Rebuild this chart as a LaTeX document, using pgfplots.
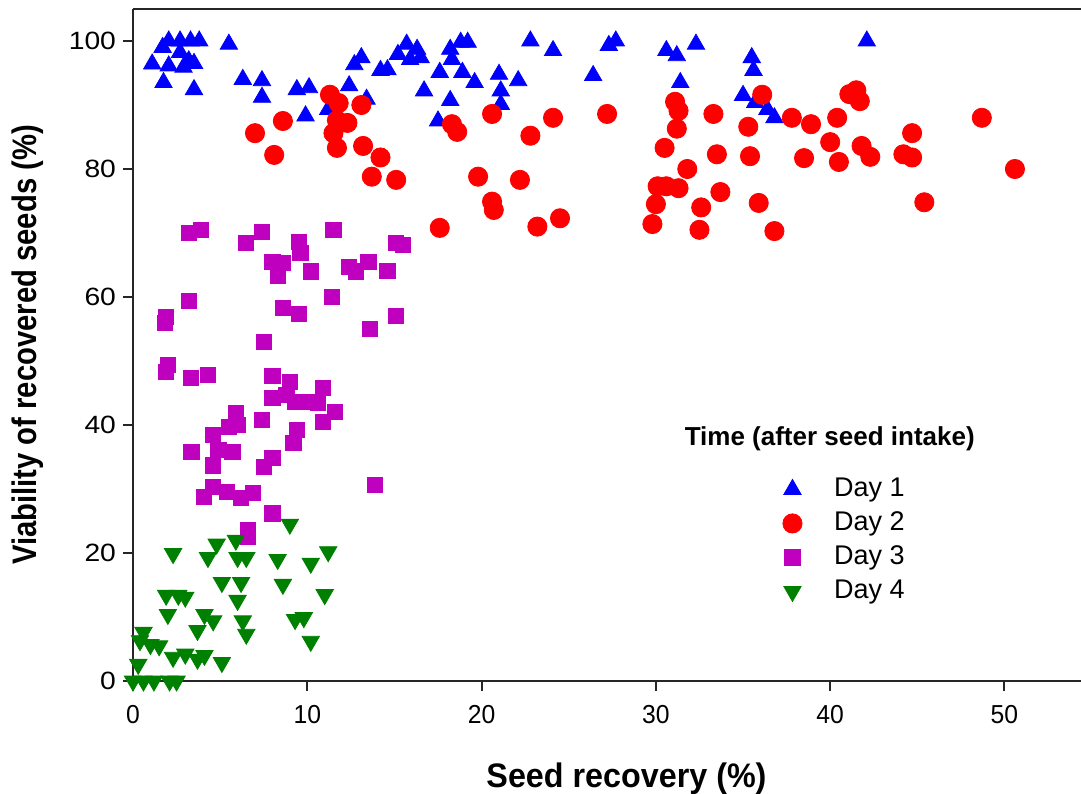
\documentclass[border=0pt]{standalone}
\usepackage{pgfplots}
\pgfplotsset{compat=1.18}
\usepackage{fontspec}
\setmainfont{Liberation Sans}
\newfontfamily\ytickfont[FakeStretch=1.13]{Liberation Sans}
\newfontfamily\xtickfont[FakeStretch=0.95]{Liberation Sans}
\newfontfamily\labfont[FakeStretch=0.86]{Liberation Sans}
\newfontfamily\xlabfont[FakeStretch=0.95]{Liberation Sans}
\definecolor{dayone}{RGB}{0,0,255}
\definecolor{daytwo}{RGB}{255,0,0}
\definecolor{daythree}{RGB}{191,0,191}
\definecolor{dayfour}{RGB}{0,128,0}
\begin{document}
\begin{tikzpicture}
\useasboundingbox (-66.5pt,-56pt) rectangle (474pt,340.5pt);
\begin{axis}[
  scale only axis, width=474pt, height=336pt,
  xmin=0, xmax=54.39, ymin=0, ymax=105,
  separate axis lines,
  axis x line*=box, axis y line*=left,
  axis line style={line width=1.1pt, black!85},
  xtick={0,10,...,50}, ytick={0,20,...,100},
  xtick pos=left, ytick pos=left,
  tick align=outside, major tick length=5pt,
  tick style={line width=1pt, black!85},
  clip=false,
  /pgf/number format/assume math mode=true,
  xticklabel style={font=\xtickfont\fontsize{13pt}{15pt}\selectfont, yshift=-3.5pt},
  yticklabel style={font=\ytickfont\fontsize{12.5pt}{15pt}\selectfont},
  xlabel={Seed recovery (\%)},
  ylabel={Viability of recovered seeds (\%)},
  xlabel style={font=\xlabfont\bfseries\fontsize{17pt}{20pt}\selectfont, at={(axis description cs:0.5206,-0.146)}, anchor=center},
  ylabel style={font=\labfont\bfseries\fontsize{17pt}{20pt}\selectfont, at={(axis description cs:-0.1108,0.5)}, anchor=center},
  legend style={draw=none, fill=none, inner sep=0pt, at={(axis description cs:0.6851,0.305)}, anchor=north west,
    font=\fontsize{13.5pt}{16pt}\selectfont, row sep=4pt,
    nodes={inner sep=0pt, text height=10pt, text depth=3pt},
    /tikz/every odd column/.append style={column sep=16pt}},
  legend cell align=left,
]
\addplot[only marks, mark=triangle*, mark size=5pt, color=dayone] coordinates {
(1.1,96.4) (1.7,99.0) (2.05,100) (2.7,100) (3.3,100) (3.8,100) (2.05,96.1) (2.7,98.2) (3.2,96.9) (2.9,95.9) (3.5,96.5) (1.75,93.5) (3.5,92.4) (5.5,99.5) (6.3,94.0) (7.4,93.8) (7.4,91.2) (9.4,92.4) (10.1,92.7) (9.9,88.3) (11.2,89.3) (12.4,93.0) (12.7,96.3) (13.1,97.4) (13.4,90.9) (14.2,95.4) (14.6,95.5) (15.2,97.9) (15.7,99.5) (16.3,98.7) (15.9,97.1) (16.5,97.4) (16.7,92.2) (17.6,95.1) (18.2,98.7) (18.3,97.1) (18.8,99.8) (19.2,99.8) (18.2,90.7) (17.5,87.5) (18.9,95.1) (19.6,93.5) (21.0,94.8) (21.1,92.2) (21.1,90.1) (22.1,93.8) (22.8,100) (24.1,98.5) (26.4,94.6) (27.3,99.3) (27.7,100) (30.6,98.5) (31.2,97.7) (32.3,99.5) (31.4,93.5) (35.5,97.4) (35.6,95.4) (35.0,91.5) (35.7,90.4) (36.4,89.3) (36.8,88.0) (42.1,100)
};
\addlegendentry{Day 1}
\addplot[only marks, mark=*, mark size=4.8pt, color=daytwo] coordinates {
(11.3,91.6) (11.8,90.3) (13.1,90) (8.6,87.5) (7.0,85.6) (8.1,82.2) (11.7,87.6) (12.3,87.2) (11.5,85.6) (11.7,83.3) (13.2,83.6) (14.2,81.8) (13.7,78.8) (15.1,78.3) (17.6,70.8) (18.3,87) (18.6,85.8) (19.8,78.8) (20.6,74.9) (20.7,73.6) (20.6,88.6) (22.8,85.2) (24.1,88) (22.2,78.3) (23.2,71) (24.5,72.3) (27.2,88.6) (31.1,90.5) (31.3,89.1) (31.2,86.3) (30.5,83.3) (33.3,88.6) (33.5,82.3) (31.8,80) (30.1,77.3) (30.6,77.3) (31.3,77) (30.0,74.5) (29.8,71.4) (32.6,74) (32.5,70.5) (33.7,76.4) (35.3,86.6) (35.4,82) (36.1,91.6) (35.9,74.7) (36.8,70.3) (37.8,88) (38.9,87) (40.4,88) (40.0,84.2) (38.5,81.7) (40.5,81.1) (41.1,91.7) (41.5,92.3) (41.7,90.6) (41.8,83.6) (42.3,81.9) (44.7,85.6) (44.2,82.3) (44.7,81.8) (45.4,74.8) (48.7,88) (50.6,80)
};
\addlegendentry{Day 2}
\addplot[only marks, mark=square*, mark size=3.8pt, color=daythree] coordinates {
(3.2,70) (3.9,70.5) (6.5,68.4) (7.4,70.2) (9.5,68.6) (9.6,66.9) (8.0,65.5) (8.6,65.3) (8.3,63.3) (10.2,64) (11.5,70.5) (12.4,64.7) (12.8,64) (13.5,65.5) (14.6,64.1) (15.1,68.4) (15.5,68.1) (11.4,60) (3.2,59.4) (1.9,56.9) (1.85,56) (8.6,58.3) (9.5,57.3) (13.6,55) (15.1,57) (7.5,53) (2.0,49.4) (1.9,48.3) (3.3,47.3) (4.3,47.8) (8.0,47.7) (9.0,46.7) (8.0,44.2) (8.8,44.7) (9.3,43.6) (10.0,43.6) (10.9,45.8) (10.6,43.4) (10.9,40.5) (11.6,42) (5.9,41.8) (5.5,39.7) (6.0,40) (7.4,40.8) (9.4,39.2) (9.2,37.2) (4.6,38.4) (3.35,35.8) (4.9,36.1) (5.7,35.8) (4.6,33.7) (8.0,34.8) (7.5,33.4) (13.9,30.6) (4.6,30.3) (4.05,28.8) (5.4,29.5) (6.2,28.6) (6.9,29.4) (8.0,26.2) (6.6,23.6) (6.6,22.5)
};
\addlegendentry{Day 3}
\addplot[only marks, mark=triangle*, mark options={rotate=180}, mark size=5pt, color=dayfour] coordinates {
(9.0,24.5) (2.3,19.9) (4.8,21.4) (5.9,22.0) (4.3,19.3) (6.0,19.3) (6.5,19.3) (8.3,19.0) (10.2,18.4) (11.2,20.2) (5.1,15.4) (6.2,15.4) (8.6,15.1) (6.0,12.6) (11.0,13.5) (1.9,13.4) (2.6,13.4) (3.0,13.1) (2.0,10.4) (4.1,10.4) (4.6,9.4) (6.3,9.4) (6.5,7.3) (9.3,9.6) (9.8,9.9) (10.2,6.2) (3.7,7.9) (0.6,7.6) (0.4,6.3) (1.0,5.7) (1.5,5.5) (2.3,3.7) (3.0,4.2) (3.7,3.4) (4.1,4.0) (5.1,2.9) (0.3,2.6) (0,0) (0.6,0) (1.2,0) (2.1,0) (2.5,0)
};
\addlegendentry{Day 4}
\node[font=\bfseries\fontsize{13pt}{15pt}\selectfont, anchor=center] at (axis description cs:0.735,0.360) {Time (after seed intake)};
\end{axis}
\end{tikzpicture}
\end{document}
